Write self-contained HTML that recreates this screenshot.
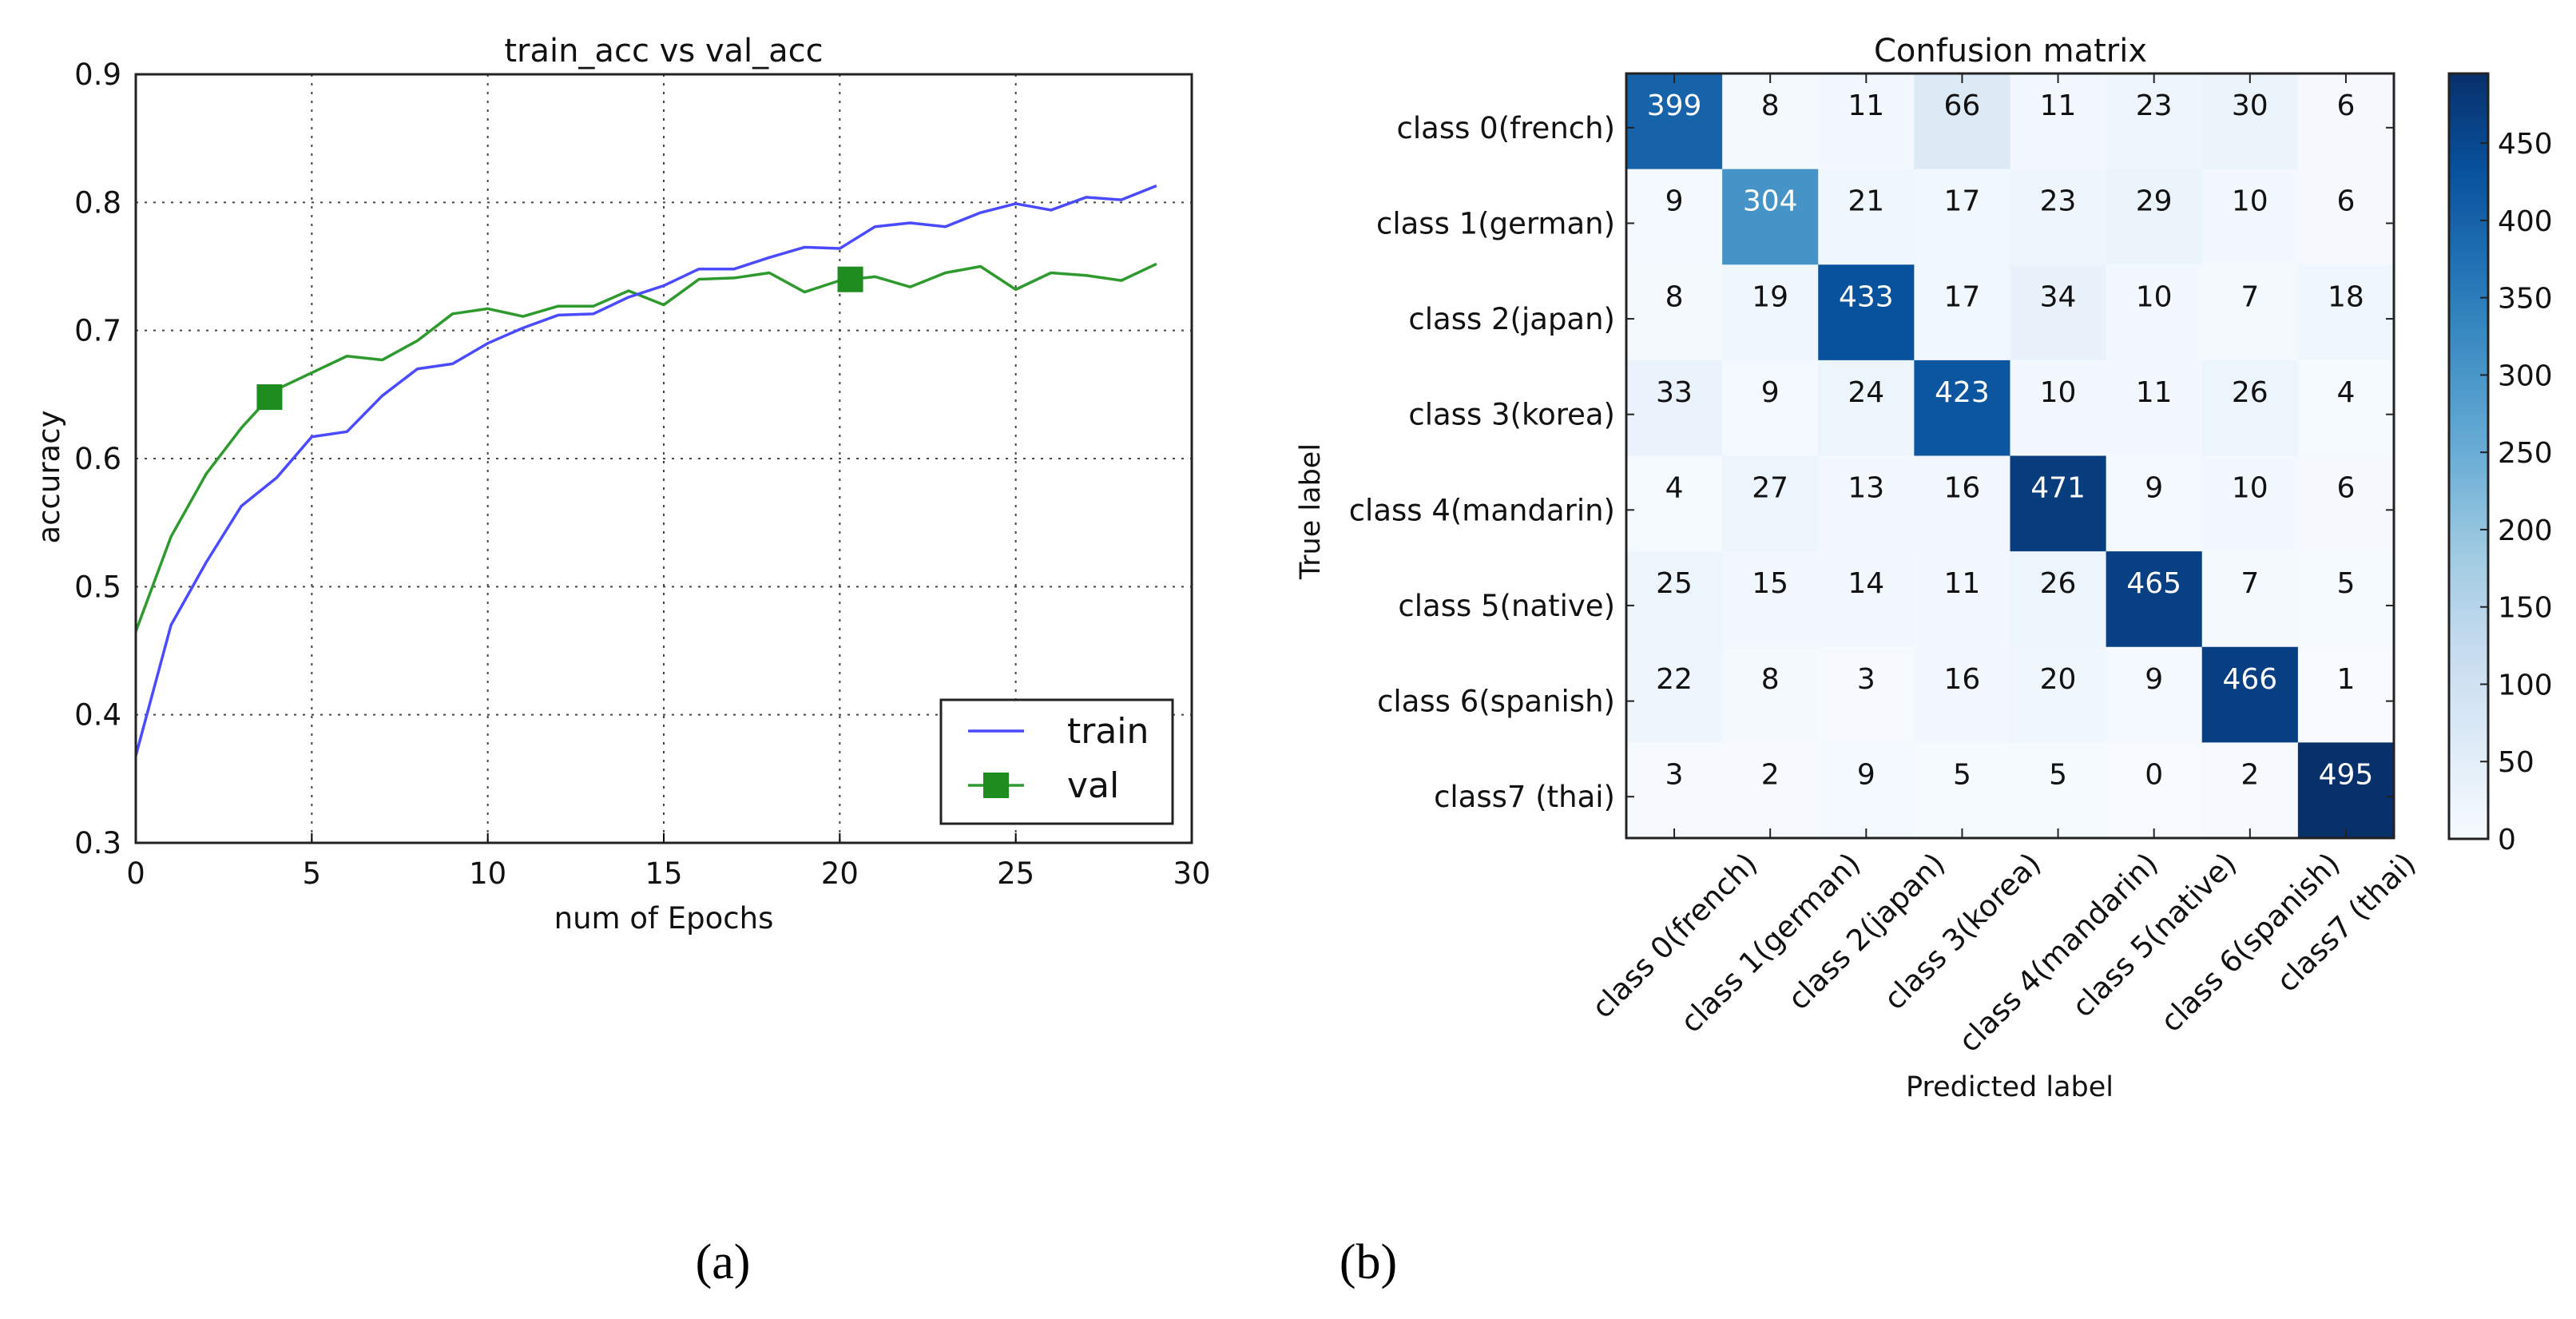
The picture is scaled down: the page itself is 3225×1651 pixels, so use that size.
<!DOCTYPE html>
<html><head><meta charset="utf-8"><style>
html,body{margin:0;padding:0;background:#fff;}
svg{display:block;font-family:"DejaVu Sans","Liberation Sans",sans-serif;}
</style></head><body>
<svg id="root" width="3225" height="1651" viewBox="0 0 3225 1651" xmlns="http://www.w3.org/2000/svg">
<g id="left"></g>
<g id="right"></g>
<text x="905" y="1600" font-family="Liberation Serif, serif" font-size="62" text-anchor="middle" fill="#000">(a)</text>
<text x="1713" y="1600" font-family="Liberation Serif, serif" font-size="62" text-anchor="middle" fill="#000">(b)</text>
</svg>
<script>
const epochs = [0,1,2,3,4,5,6,7,8,9,10,11,12,13,14,15,16,17,18,19,20,21,22,23,24,25,26,27,28,29];
const trainAcc = [0.368,0.470,0.519,0.563,0.585,0.617,0.621,0.649,0.670,0.674,0.690,0.702,0.712,0.713,0.726,0.735,0.748,0.748,0.757,0.765,0.764,0.781,0.784,0.781,0.792,0.799,0.794,0.804,0.802,0.813];
const valAcc = [0.465,0.539,0.588,0.624,0.654,0.667,0.680,0.677,0.692,0.713,0.717,0.711,0.719,0.719,0.731,0.720,0.740,0.741,0.745,0.730,0.739,0.742,0.734,0.745,0.750,0.732,0.745,0.743,0.739,0.752];
const valMarkerX = [3.8,20.3];
const xTicks = [0,5,10,15,20,25,30];
const yTicks = [0.3,0.4,0.5,0.6,0.7,0.8,0.9];
const yTickLabels = ["0.3","0.4","0.5","0.6","0.7","0.8","0.9"];

const classes = ["class 0(french)","class 1(german)","class 2(japan)","class 3(korea)","class 4(mandarin)","class 5(native)","class 6(spanish)","class7 (thai)"];
const cmRow0 = [399,8,11,66,11,23,30,6];
const cmRow1 = [9,304,21,17,23,29,10,6];
const cmRow2 = [8,19,433,17,34,10,7,18];
const cmRow3 = [33,9,24,423,10,11,26,4];
const cmRow4 = [4,27,13,16,471,9,10,6];
const cmRow5 = [25,15,14,11,26,465,7,5];
const cmRow6 = [22,8,3,16,20,9,466,1];
const cmRow7 = [3,2,9,5,5,0,2,495];
const cbTicks = [0,50,100,150,200,250,300,350,400,450];

const NS="http://www.w3.org/2000/svg";
function mk(parent,tag,attrs,text){const e=document.createElementNS(NS,tag);for(const k in attrs)e.setAttribute(k,attrs[k]);if(text!==undefined)e.textContent=text;parent.appendChild(e);return e;}

// ---------- Left chart ----------
const L=document.getElementById('left');
const AX={l:170,r:1492,t:93,b:1055};
const xS=v=>AX.l+(v-0)/(30-0)*(AX.r-AX.l);
const yS=v=>AX.b-(v-0.3)/(0.9-0.3)*(AX.b-AX.t);
// grid
xTicks.forEach((t,i)=>{
  if(t>0&&t<30){const g=mk(L,'line',{x1:xS(t),x2:xS(t),y1:AX.t,y2:AX.b,stroke:'#444','stroke-width':2,'stroke-dasharray':'3,8'});
  
  }
  const tk=mk(L,'line',{x1:xS(t),x2:xS(t),y1:AX.b,y2:AX.b-12,stroke:'#000','stroke-width':2});
  
  
  const lb=mk(L,'text',{x:xS(t),y:1106,'font-size':37,'text-anchor':'middle',fill:'#111'},String(t));
  
  
});
yTicks.forEach((t,i)=>{
  if(i>0&&i<yTicks.length-1){const g=mk(L,'line',{x1:AX.l,x2:AX.r,y1:yS(t),y2:yS(t),stroke:'#444','stroke-width':2,'stroke-dasharray':'3,8'});
  
  }
  const lb=mk(L,'text',{x:152,y:yS(t)+13,'font-size':37,'text-anchor':'end',fill:'#111'},yTickLabels[i]);
  
  
});
function poly(arr,color,name){
  const pts=epochs.map((e,i)=>xS(e)+','+yS(arr[i])).join(' ');
  const p=mk(L,'polyline',{points:pts,fill:'none',stroke:color,'stroke-width':3.5,'stroke-linejoin':'round'});
  
  
}
poly(valAcc,'#2e9a2e','val-line');
poly(trainAcc,'#4a4aff','train-line');
function interp(arr,x){const i=Math.floor(x),f=x-i;return arr[i]+(arr[Math.min(i+1,arr.length-1)]-arr[i])*f;}
valMarkerX.forEach(mx=>{
  const cx=xS(mx),cy=yS(interp(valAcc,mx));
  const r=mk(L,'rect',{x:cx-16,y:cy-16,width:32,height:32,fill:'#1e8c1e'});
  
  
});
const fr=mk(L,'rect',{x:AX.l,y:AX.t,width:AX.r-AX.l,height:AX.b-AX.t,fill:'none',stroke:'#222','stroke-width':3});


const t1=mk(L,'text',{x:831,y:77,'font-size':40,'text-anchor':'middle',fill:'#111'},'train_acc vs val_acc');


const xl=mk(L,'text',{x:831,y:1162,'font-size':37,'text-anchor':'middle',fill:'#111'},'num of Epochs');


const yl=mk(L,'text',{x:0,y:0,'font-size':37,'text-anchor':'middle',fill:'#111',transform:'translate(74,597) rotate(-90)'},'accuracy');


// legend
const lg=mk(L,'g',{});


mk(lg,'rect',{x:1178,y:876,width:290,height:155,fill:'#fff',stroke:'#222','stroke-width':3});
mk(lg,'line',{x1:1212,x2:1282,y1:915,y2:915,stroke:'#4a4aff','stroke-width':3.5});
const le1=mk(lg,'text',{x:1336,y:930,'font-size':44,fill:'#111'},'train');


mk(lg,'line',{x1:1212,x2:1282,y1:983,y2:983,stroke:'#2e9a2e','stroke-width':3.5});
mk(lg,'rect',{x:1231,y:967,width:32,height:32,fill:'#1e8c1e'});
const le2=mk(lg,'text',{x:1336,y:998,'font-size':44,fill:'#111'},'val');



// ---------- Confusion matrix ----------
const R=document.getElementById('right');
const CM={l:2036,r:2997,t:92,b:1049};
const cw=(CM.r-CM.l)/8,ch=(CM.b-CM.t)/8;
const rows=[cmRow0,cmRow1,cmRow2,cmRow3,cmRow4,cmRow5,cmRow6,cmRow7];
const vmax=495;
const stops=['#f7fbff','#deebf7','#c6dbef','#9ecae1','#6baed6','#4292c6','#2171b5','#08519c','#08306b'];
function hex(h){return [1,3,5].map(i=>parseInt(h.substr(i,2),16));}
function blues(t){t=Math.max(0,Math.min(1,t));const p=t*8,i=Math.min(7,Math.floor(p)),f=p-i;const a=hex(stops[i]),b=hex(stops[i+1]);return 'rgb('+a.map((v,k)=>Math.round(v+(b[k]-v)*f)).join(',')+')';}
rows.forEach((row,ri)=>{
  row.forEach((v,ci)=>{
    const c=mk(R,'rect',{x:CM.l+ci*cw,y:CM.t+ri*ch,width:cw+0.5,height:ch+0.5,fill:blues(v/vmax)});
    
    
    const tx=mk(R,'text',{x:CM.l+(ci+0.5)*cw,y:CM.t+ri*ch+52,'font-size':36,'text-anchor':'middle',fill:v>vmax/2?'#fff':'#111'},String(v));
    
    
  });
});
const cf=mk(R,'rect',{x:CM.l,y:CM.t,width:CM.r-CM.l,height:CM.b-CM.t,fill:'none',stroke:'#222','stroke-width':3});


classes.forEach((c,i)=>{
  const yc=CM.t+(i+0.5)*ch+8;
  mk(R,'line',{x1:CM.l,x2:CM.l+10,y1:yc,y2:yc,stroke:'#222','stroke-width':2});
  mk(R,'line',{x1:CM.r,x2:CM.r-10,y1:yc,y2:yc,stroke:'#222','stroke-width':2});
  const rl=mk(R,'text',{x:2022,y:yc+13,'font-size':37,'text-anchor':'end',fill:'#111'},c);
  
  
  const xc=CM.l+(i+0.5)*cw;
  mk(R,'line',{x1:xc,x2:xc,y1:CM.b,y2:CM.b-12,stroke:'#222','stroke-width':2});
  mk(R,'line',{x1:xc,x2:xc,y1:CM.t,y2:CM.t+12,stroke:'#222','stroke-width':2});
  const cl=mk(R,'text',{x:0,y:0,'font-size':37,'text-anchor':'middle',fill:'#111'},c);
  
  
  const len=cl.getComputedTextLength();
  const half=(len*0.7071+37*0.7071)/2;
  cl.setAttribute('transform','translate('+xc+','+(CM.b+12+half)+') rotate(-45) translate(0,13)');
});
const t2=mk(R,'text',{x:2517,y:77,'font-size':40,'text-anchor':'middle',fill:'#111'},'Confusion matrix');


const tl=mk(R,'text',{x:0,y:0,'font-size':35,'text-anchor':'middle',fill:'#111',transform:'translate(1652,640) rotate(-90)'},'True label');


const pl=mk(R,'text',{x:2516,y:1372,'font-size':35,'text-anchor':'middle',fill:'#111'},'Predicted label');


// colorbar
const CB={l:3066,r:3115,t:92,b:1050};
const defs=mk(R,'defs',{});
const grad=mk(defs,'linearGradient',{id:'cbg',x1:0,y1:1,x2:0,y2:0});
stops.forEach((s,i)=>mk(grad,'stop',{offset:(i/8),'stop-color':s}));
const cb=mk(R,'rect',{x:CB.l,y:CB.t,width:CB.r-CB.l,height:CB.b-CB.t,fill:'url(#cbg)',stroke:'#222','stroke-width':3});


const cbY=v=>CB.b-v/vmax*(CB.b-CB.t);
cbTicks.forEach(t=>{
  mk(R,'line',{x1:CB.r,x2:CB.r-10,y1:cbY(t),y2:cbY(t),stroke:'#222','stroke-width':2});
  const cl=mk(R,'text',{x:3127,y:cbY(t)+13,'font-size':36,fill:'#111'},String(t));
  
  
});
</script>
</body></html>
